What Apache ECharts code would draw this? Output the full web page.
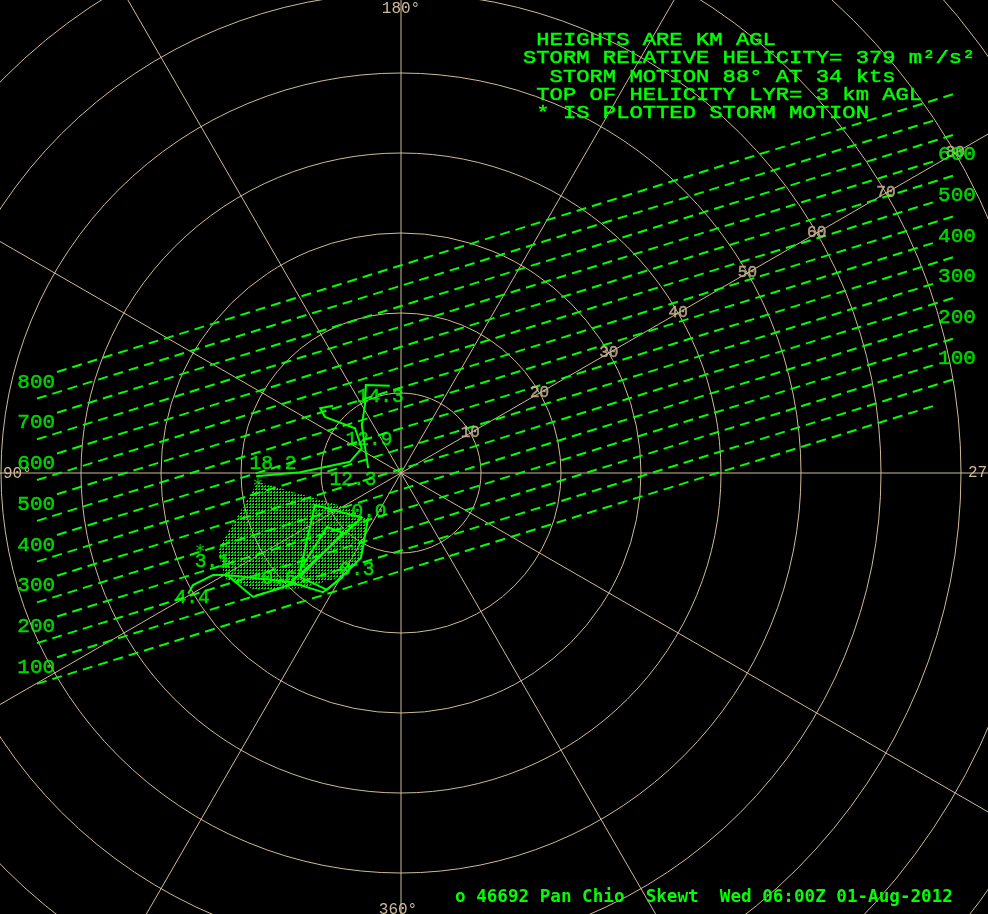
<!DOCTYPE html>
<html><head><meta charset="utf-8">
<style>html,body{margin:0;padding:0;background:#000}#c{width:988px;height:914px}</style>
<script src="https://cdn.jsdelivr.net/npm/echarts@6/dist/echarts.min.js"></script>
</head><body><div id="c"></div>
<script>
// ---------------- data (knots, u = px-right, v = px-up) ----------------
const ringSpeeds = [10, 20, 30, 40, 50, 60, 70, 80, 90];
const speedLabels = [10, 20, 30, 40, 50, 60, 70, 80];
const speedLabelAngle = 30; // degrees above +u
const degreeLabels = ['180°', '90°', '270°', '360°'];

// hodograph segments (u, v in knots)
const hodoLow = [[-4.1,-5.6],[-5.0,-10.6],[-7.0,-12.6],[-9.25,-14.6],[-12.6,-13.0],[-7.25,-7.5],
  [-9.25,-6.75],[-12.6,-12.1],[-10.75,-4.0],[-4.9,-5.6],[-14.25,-14.1],[-18.5,-15.5],
  [-21.75,-12.75],[-23.5,-12.75],[-26.0,-14.0],[-26.6,-15.1]];
const hodoLow2 = [[-21.75,-12.75],[-14.0,-13.6],[-9.75,-14.9],[-7.25,-13.0]];
const hodoMid = [[-4.1,0.6],[-4.5,3.25],[-4.9,6.0],[-4.5,8.5],[-4.4,11.0],[-4.4,10.3],[-4.4,11.0],[-1.4,10.9]];
const hodoHigh = [[-8.5,8.4],[-10.1,8.1],[-9.5,7.0],[-5.75,5.6],[-4.9,3.1],[-6.4,1.4],[-12.6,0.1],[-18.1,-0.4]];
const heightLabels = ['0.0','0.3','0.6','3.1','4.4','12.3','12.9','14.3','18.2'];
const heightLabelPos = [[-4.0,-4.9],[-5.5,-12.1],[-15.25,-13.25],[-23.6,-11.1],[-26.1,-15.6],
  [-6.0,-0.9],[-4.0,4.1],[-2.6,9.5],[-16.0,1.1]];
const stormMotion = [-17.9, -1.2];
const otherMarker = [-25.1, -9.4];
// helicity swept area (storm motion + 0-3 km hodograph)
const hatchPoly = [[-17.9,-1.1],[-6.4,-4.4],[-4.1,-5.9],[-4.9,-10.4],[-7.0,-12.9],[-12.6,-14.4],
  [-18.25,-14.6],[-22.0,-13.2],[-22.9,-9.6]];

const helicityLevels = [800,750,700,650,600,550,500,450,400,350,300,250,200,150,100,50];
const helicityLeftLabels = ['800','700','600','500','400','300','200','100'];
const helicityRightLabels = ['600','500','400','300','200','100'];

const infoLines = [' HEIGHTS ARE KM AGL', 'STORM RELATIVE HELICITY= 379 m²/s²', '  STORM MOTION 88° AT 34 kts',
  ' TOP OF HELICITY LYR= 3 km AGL', ' * IS PLOTTED STORM MOTION'];
const footer = 'o 46692 Pan Chio  Skewt  Wed 06:00Z 01-Aug-2012';

// ---------------- layout ----------------
const W = 988, H = 914, CX = 401, CY = 473, PPK = 8;
const TAN = '#cfba96', GREEN = '#00ff00';
const FONT = 'Liberation Mono';
// helicity isopleth geometry (knots)
const HEL_SLOPE = 0.31, HEL_REF_U = -43, HEL_V800 = 12.625, HEL_KT_PER_UNIT = 0.05094;
function helV(L, u) { return HEL_V800 - (800 - L) * HEL_KT_PER_UNIT + (u - HEL_REF_U) * HEL_SLOPE; }

const helLines = helicityLevels.map(L => {
  const full = L % 100 === 0;
  const u0 = full ? -43 : -45.5, u1 = full ? 69.5 : 66.75;
  return { coords: [[u0, helV(L, u0)], [u1, helV(L, u1)]] };
});
const leftLabelData = helicityLeftLabels.map(t => {
  const u = -45.6; return { name: t, value: [u, helV(+t, u) - 0.44] };
});
const rightLabelData = helicityRightLabels.map(t => {
  const u = 69.5; return { name: t, value: [u, helV(+t + 100, u) - 2.6] };
});
const speedData = speedLabels.map(r => ({ name: String(r),
  value: [r * Math.cos(speedLabelAngle * Math.PI / 180), r * Math.sin(speedLabelAngle * Math.PI / 180)] }));
const heightData = heightLabels.map((t, i) => ({ name: t, value: heightLabelPos[i] }));

const hatchCanvas = document.createElement('canvas');
hatchCanvas.width = 3; hatchCanvas.height = 3;
(function () { const g = hatchCanvas.getContext('2d'); g.fillStyle = '#00f000'; g.fillRect(0, 0, 2, 1); g.fillRect(1, 2, 1, 1); })();

function textSeries(name, data, color, size, extra) {
  return Object.assign({
    name, type: 'scatter', data, symbolSize: 0, silent: true, z: 5,
    label: { show: true, position: 'inside', formatter: p => p.name, color, fontFamily: FONT, fontSize: size,
      textBorderColor: color, textBorderWidth: 0.5 },
    emphasis: { disabled: true }
  }, extra || {});
}

const chart = echarts.init(document.getElementById('c'), null, { renderer: 'canvas' });
chart.setOption({
  backgroundColor: '#000',
  animation: false,
  grid: { left: 0, right: 0, top: 0, bottom: 0, containLabel: false },
  xAxis: { type: 'value', min: -CX / PPK, max: (W - CX) / PPK, show: false },
  yAxis: { type: 'value', min: -(H - CY) / PPK, max: CY / PPK, show: false },
  polar: { center: [CX, CY], radius: ringSpeeds[ringSpeeds.length - 1] * PPK },
  angleAxis: { type: 'value', min: 0, max: 360, interval: 30, startAngle: 90,
    axisLine: { show: false }, axisTick: { show: false }, axisLabel: { show: false },
    splitLine: { show: true, lineStyle: { color: TAN, width: 1 } } },
  radiusAxis: { type: 'value', min: 0, max: ringSpeeds[ringSpeeds.length - 1], interval: 10,
    axisLine: { show: false }, axisTick: { show: false }, axisLabel: { show: false },
    splitLine: { show: true, lineStyle: { color: TAN, width: 1 } } },
  series: [
    { type: 'custom', coordinateSystem: 'cartesian2d', data: [[0, 0]], silent: true, z: 2,
      renderItem: (params, api) => ({ type: 'polygon',
        shape: { points: hatchPoly.map(p => api.coord(p)) },
        style: { fill: { image: hatchCanvas, repeat: 'repeat' } } }) },
    { type: 'lines', coordinateSystem: 'cartesian2d', data: helLines, silent: true, z: 3,
      lineStyle: { color: GREEN, width: 2, type: [10, 6], opacity: 1 } },
    { type: 'lines', coordinateSystem: 'cartesian2d', polyline: true, silent: true, z: 4,
      data: [{ coords: hodoLow }, { coords: hodoLow2 }, { coords: hodoMid }, { coords: hodoHigh }],
      lineStyle: { color: GREEN, width: 2, opacity: 1 } },
    textSeries('speeds', speedData, TAN, 16),
    textSeries('heights', heightData, GREEN, 19.5),
    textSeries('helLeft', leftLabelData, GREEN, 21),
    textSeries('helRight', rightLabelData, GREEN, 21),
    textSeries('storm', [{ name: '*', value: stormMotion }, { name: '*', value: otherMarker }], GREEN, 18,
      { label: { show: true, position: 'inside', formatter: p => p.name, color: GREEN,
        fontFamily: 'DejaVu Sans Mono', fontSize: 18, offset: [0, 4] } })
  ],
  graphic: [
    { type: 'text', x: 523, y: 31, scaleX: 1.167, silent: true, z: 10,
      style: { text: infoLines.join('\n'), fill: GREEN, stroke: GREEN, lineWidth: 0.5,
        font: '19px "' + FONT + '"', lineHeight: 18.3, verticalAlign: 'top' } },
    { type: 'text', x: 455, y: 897, silent: true, z: 10,
      style: { text: footer, fill: GREEN, font: 'bold 17.6px "DejaVu Sans Mono"', verticalAlign: 'middle' } },
    { type: 'text', x: CX, y: 9, silent: true,
      style: { text: degreeLabels[0], fill: TAN, font: '16px "' + FONT + '"', align: 'center', verticalAlign: 'middle' } },
    { type: 'text', x: 3, y: CY + 1, silent: true,
      style: { text: degreeLabels[1], fill: TAN, font: '16px "' + FONT + '"', align: 'left', verticalAlign: 'middle' } },
    { type: 'text', x: 968, y: CY, silent: true,
      style: { text: degreeLabels[2], fill: TAN, font: '16px "' + FONT + '"', align: 'left', verticalAlign: 'middle' } },
    { type: 'text', x: 398, y: 910, silent: true,
      style: { text: degreeLabels[3], fill: TAN, font: '16px "' + FONT + '"', align: 'center', verticalAlign: 'middle' } }
  ]
});
</script></body></html>
